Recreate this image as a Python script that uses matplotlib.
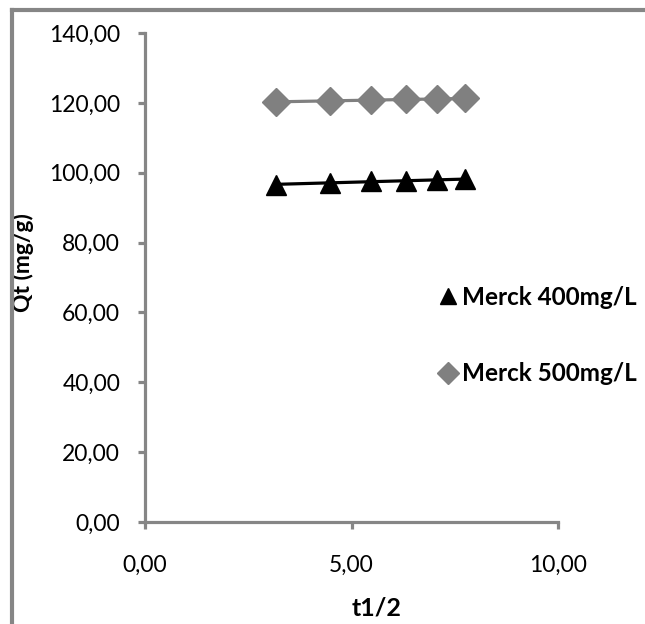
import numpy as np
import matplotlib
matplotlib.use("Agg")
import matplotlib.pyplot as plt
from matplotlib.ticker import FuncFormatter
from matplotlib.lines import Line2D

# square root of contact time
t_half = [3.16, 4.47, 5.48, 6.32, 7.07, 7.75]
qt_400 = [96.6, 97.2, 97.5, 97.7, 97.9, 98.2]
qt_500 = [120.3, 120.6, 120.8, 121.0, 121.1, 121.3]
series_names = ["Merck 400mg/L", "Merck 500mg/L"]

x_ticks = [0, 5, 10]
y_ticks = [0, 20, 40, 60, 80, 100, 120, 140]

FONT = "Lato"
AXIS_GREY = "#868686"

fig = plt.figure(figsize=(6.45, 6.24), dpi=100)
ax = fig.add_axes([0.225, 0.1635, 0.64, 0.7835])

x = np.array(t_half)
for y, color, marker in [(qt_400, "black", "^"), (qt_500, "#808080", "D")]:
    y = np.array(y)
    k, b = np.polyfit(x, y, 1)
    ax.plot(x, k * x + b, color=color, lw=2.3, zorder=2)
    ax.plot(x, y, linestyle="none", marker=marker, ms=14, color=color, zorder=3)

ax.set_xlim(0, 10)
ax.set_ylim(0, 140)
ax.set_xticks(x_ticks)
ax.set_yticks(y_ticks)
comma = FuncFormatter(lambda v, p: f"{v:.2f}".replace(".", ","))
ax.xaxis.set_major_formatter(comma)
ax.yaxis.set_major_formatter(comma)

for s in ["top", "right"]:
    ax.spines[s].set_visible(False)
for s in ["left", "bottom"]:
    ax.spines[s].set_color(AXIS_GREY)
    ax.spines[s].set_linewidth(2.3)
ax.tick_params(axis="both", colors=AXIS_GREY, width=2.3, length=5,
               labelcolor="black", labelsize=16.5)
ax.tick_params(axis="y", pad=13)
ax.tick_params(axis="x", pad=19)
for lab in ax.get_xticklabels() + ax.get_yticklabels():
    lab.set_family(FONT)

ax.set_xlabel("t1/2", family=FONT, fontweight="bold", fontsize=18)
ax.xaxis.set_label_coords(0.56, -0.152)
ax.set_ylabel("Qt (mg/g)", family=FONT, fontweight="bold", fontsize=16.5)
ax.yaxis.set_label_coords(-0.27, 0.53)

handles = [
    Line2D([], [], linestyle="none", marker="^", ms=12, color="black"),
    Line2D([], [], linestyle="none", marker="D", ms=11, color="#808080"),
]
fig.legend(handles, series_names, loc="center left",
           bbox_to_anchor=(0.65, 0.462), frameon=False,
           handlelength=0.6, handletextpad=0.25, labelspacing=2.2,
           prop={"family": FONT, "weight": "bold", "size": 17.5})

# chart area frame (left and top edges)
fig.add_artist(Line2D([0.018, 0.018], [0, 0.984], transform=fig.transFigure,
                      color=AXIS_GREY, lw=3))
fig.add_artist(Line2D([0.018, 1.0], [0.984, 0.984], transform=fig.transFigure,
                      color=AXIS_GREY, lw=3))

fig.savefig("out.png", dpi=100)
